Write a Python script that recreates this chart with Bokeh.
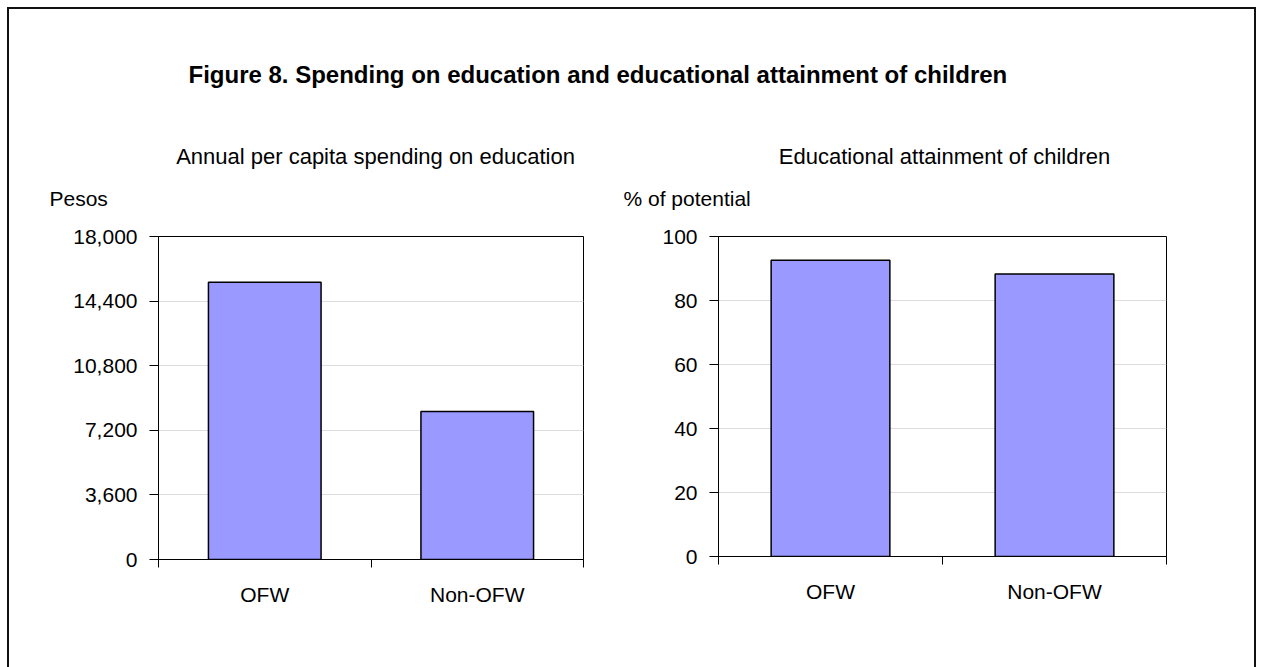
from bokeh.plotting import figure
from bokeh.models import Range1d, FixedTicker, NumeralTickFormatter, Label, ColumnDataSource
from bokeh.layouts import column, row
from bokeh.embed import file_html
from bokeh.resources import INLINE

# ---- data ----
categories = ["OFW", "Non-OFW"]
spending = [15450, 8250]          # pesos, annual per capita spending on education
attainment = [92.6, 88.3]         # % of potential
spending_ticks = [0, 3600, 7200, 10800, 14400, 18000]
attainment_ticks = [0, 20, 40, 60, 80, 100]

main_title = "Figure 8. Spending on education and educational attainment of children"
left_title = "Annual per capita spending on education"
right_title = "Educational attainment of children"
left_unit = "Pesos"
right_unit = "% of potential"

FONT = "Liberation Sans, Arial, sans-serif"
FS = "21px"
BAR = "#9999FF"

# ---- header (title, subtitles, unit labels) ----
hdr = figure(width=1245, height=206, x_range=Range1d(9, 1254), y_range=Range1d(215, 9),
             output_backend="svg", toolbar_location=None, min_border=0)
hdr.axis.visible = False
hdr.grid.visible = False
hdr.outline_line_color = None
hdr.add_layout(Label(x=188, y=74, text=main_title, text_font=FONT, text_font_style="bold",
                     text_font_size="24px", text_baseline="middle", text_align="left", text_color="black"))
hdr.add_layout(Label(x=375, y=156, text=left_title, text_font=FONT, text_font_size="22px",
                     text_baseline="middle", text_align="center", text_color="black"))
hdr.add_layout(Label(x=944, y=156, text=right_title, text_font=FONT, text_font_size="22px",
                     text_baseline="middle", text_align="center", text_color="black"))
hdr.add_layout(Label(x=49, y=198, text=left_unit, text_font=FONT, text_font_size=FS,
                     text_baseline="middle", text_align="left", text_color="black"))
hdr.add_layout(Label(x=623, y=198, text=right_unit, text_font=FONT, text_font_size=FS,
                     text_baseline="middle", text_align="left", text_color="black"))


def bar_chart(values, ticks, fmt, fw, fh, bl, br, bt, bb):
    src = ColumnDataSource(dict(x=[i + 0.5 for i in range(len(categories))], top=values))
    p = figure(frame_width=fw, frame_height=fh, x_range=Range1d(0, len(categories)),
               y_range=Range1d(ticks[0], ticks[-1]), output_backend="svg", toolbar_location=None,
               min_border_left=bl, min_border_right=br, min_border_top=bt, min_border_bottom=bb)
    p.vbar(x="x", top="top", width=0.53, source=src, fill_color=BAR, line_color="black", line_width=1.5)
    p.outline_line_color = "black"
    p.outline_line_width = 1
    p.xgrid.visible = False
    p.ygrid.grid_line_color = "#dddddd"
    p.ygrid.ticker = FixedTicker(ticks=ticks)
    # y axis
    p.yaxis.ticker = FixedTicker(ticks=ticks)
    p.yaxis.formatter = NumeralTickFormatter(format=fmt)
    p.yaxis.major_tick_in = 0
    p.yaxis.major_tick_out = 9
    p.yaxis.minor_tick_line_color = None
    p.yaxis.major_label_standoff = 12
    p.yaxis.major_label_text_font = FONT
    p.yaxis.major_label_text_font_size = FS
    p.yaxis.major_label_text_color = "black"
    p.yaxis.axis_line_color = "black"
    p.yaxis.major_tick_line_color = "black"
    # x axis: labels at category centres, ticks at category boundaries
    p.xaxis.ticker = FixedTicker(ticks=[i + 0.5 for i in range(len(categories))],
                                 minor_ticks=list(range(len(categories) + 1)))
    p.xaxis.major_label_overrides = {i + 0.5: c for i, c in enumerate(categories)}
    p.xaxis.major_tick_in = 0
    p.xaxis.major_tick_out = 0
    p.xaxis.minor_tick_in = 0
    p.xaxis.minor_tick_out = 8
    p.xaxis.minor_tick_line_color = "black"
    p.xaxis.major_label_standoff = 15
    p.xaxis.major_label_text_font = FONT
    p.xaxis.major_label_text_font_size = FS
    p.xaxis.major_label_text_color = "black"
    p.xaxis.axis_line_color = "black"
    p.background_fill_color = "white"
    p.border_fill_color = "white"
    return p


left = bar_chart(spending, spending_ticks, "0,0", 425, 323, 149, 67, 18, 111)
right = bar_chart(attainment, attainment_ticks, "0", 448, 320, 68, 88, 21, 111)

layout = column(hdr, row(left, right, spacing=0), spacing=0, margin=(7, 0, 0, 7),
                styles={"border-left": "2px solid #111111", "border-top": "2px solid #111111",
                        "border-right": "2px solid #111111"})

open("out.html", "w").write(file_html(layout, INLINE))
